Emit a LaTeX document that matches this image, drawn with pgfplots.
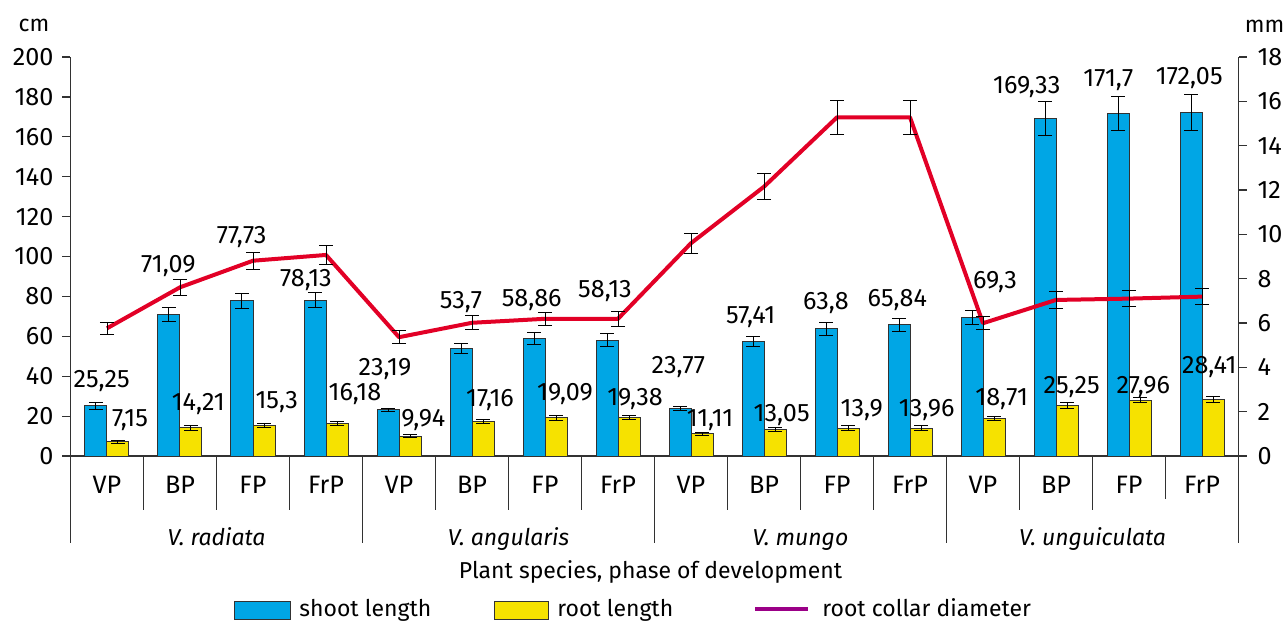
\documentclass[border=0pt]{standalone}
\usepackage{fontspec}
\setmainfont{Fira Sans}
\usepackage{pgfplots}
\usepackage{pgfplotstable}
\pgfplotsset{compat=1.18}
\definecolor{shootblue}{RGB}{0,166,229}
\definecolor{rootyellow}{RGB}{246,226,0}
\definecolor{linered}{RGB}{226,0,38}
\definecolor{legpurple}{RGB}{155,0,135}
\definecolor{axisgray}{RGB}{50,50,50}

\pgfplotstableread{
x shoot se root re diam de
0 25.25 1.7 7.15 0.7 5.76 0.26
1 71.09 3.5 14.21 1.2 7.61 0.35
2 77.73 3.9 15.30 0.8 8.81 0.39
3 78.13 3.9 16.18 1.1 9.07 0.44
4 23.19 0.8 9.94 0.6 5.36 0.28
5 53.70 2.5 17.16 1.0 6.01 0.32
6 58.86 3.2 19.09 1.1 6.19 0.29
7 58.13 3.1 19.38 1.1 6.19 0.33
8 23.77 0.8 11.11 0.7 9.60 0.45
9 57.41 2.5 13.05 1.0 12.15 0.59
10 63.80 3.2 13.90 1.2 15.28 0.77
11 65.84 3.2 13.96 1.2 15.28 0.77
12 69.30 3.5 18.71 1.1 5.99 0.29
13 169.33 8.5 25.25 1.5 7.04 0.38
14 171.70 8.5 27.96 1.2 7.10 0.36
15 172.05 9.0 28.41 1.6 7.19 0.35
}\datatable

\newcommand\numfont{\fontsize{12.6}{15}\selectfont}

\begin{document}
\begin{tikzpicture}[font=\fontsize{11.5}{13.8}\selectfont]
\pgfplotsset{
  common/.style={
    at={(0,0)}, anchor=south west,
    scale only axis, width=584pt, height=199.5pt,
    xmin=-0.5, xmax=15.5, clip=false,
    axis line style={-, draw=axisgray, line width=0.6pt},
    tick style={draw=axisgray, line width=0.6pt},
    major tick length=4pt, tick align=outside,
    xtick=\empty,
    /pgf/number format/assume math mode=true,
  },
  ebar/.style={error bars/.cd, y dir=both, y explicit,
    error mark=|,
    error bar style={black, line width=0.5pt},
    error mark options={black, mark size=3.5pt, line width=0.5pt}},
}
\begin{axis}[common,
  ymin=0, ymax=200, ytick={0,20,...,200},
  axis x line*=bottom, axis y line*=left,
  ybar=0pt, bar width=11pt,
  yticklabel style={font=\numfont, xshift=-1pt},
]
\addplot[fill=shootblue, draw=axisgray, line width=0.5pt, ebar]
  table[x=x, y=shoot, y error=se]{\datatable};
\addplot[fill=rootyellow, draw=axisgray, line width=0.5pt, ebar]
  table[x=x, y=root, y error=re]{\datatable};
\begin{scope}[every node/.style={anchor=base, yshift=-4.2pt, inner sep=0pt, font=\numfont}]
\node at (axis cs:-0.073,38.6) {25,25};
\node at (axis cs:0.84,96.1) {71,09};
\node at (axis cs:1.845,110.8) {77,73};
\node at (axis cs:2.726,89.1) {78,13};
\node at (axis cs:3.808,44.8) {23,19};
\node at (axis cs:4.849,78.2) {53,7};
\node at (axis cs:5.818,79.0) {58,86};
\node at (axis cs:6.822,83.6) {58,13};
\node at (axis cs:7.826,45.6) {23,77};
\node at (axis cs:8.818,70.7) {57,41};
\node at (axis cs:9.849,77.8) {63,8};
\node at (axis cs:10.826,79.0) {65,84};
\node at (axis cs:12.164,88.2) {69,3};
\node at (axis cs:12.599,186.0) {169,33};
\node at (axis cs:13.716,189.3) {171,7};
\node at (axis cs:14.826,190.5) {172,05};
\node at (axis cs:0.315,18.9) {7,15};
\node at (axis cs:1.251,27.2) {14,21};
\node at (axis cs:2.325,28.1) {15,3};
\node at (axis cs:3.397,32.2) {16,18};
\node at (axis cs:4.333,18.9) {9,94};
\node at (axis cs:5.247,28.9) {17,16};
\node at (axis cs:6.274,32.2) {19,09};
\node at (axis cs:7.233,29.7) {19,38};
\node at (axis cs:8.260,18.9) {11,11};
\node at (axis cs:9.242,21.4) {13,05};
\node at (axis cs:10.338,23.9) {13,9};
\node at (axis cs:11.229,23.9) {13,96};
\node at (axis cs:12.256,29.7) {18,71};
\node at (axis cs:13.215,35.6) {25,25};
\node at (axis cs:14.196,35.6) {27,96};
\node at (axis cs:15.1,45.6) {28,41};
\end{scope}
\end{axis}
\begin{axis}[common,
  ymin=0, ymax=18, ytick={0,2,...,18},
  axis x line=none, axis y line*=right,
  yticklabel style={font=\numfont, xshift=2pt},
]
\addplot[linered, line width=2pt, line join=round, mark=none, ebar]
  table[x=x, y=diam, y error=de]{\datatable};
\end{axis}
\begin{scope}[x=0.5pt, y=-0.5pt, shift={(-35.25pt,228pt)}]
  \draw[axisgray, line width=0.6pt] (70.5,456) -- (70.5,543);
  \draw[axisgray, line width=0.6pt] (1238.5,456) -- (1238.5,543);
  \foreach \k in {1,2,3,5,6,7,9,10,11,13,14}
    \draw[axisgray, line width=0.6pt] ({70.5+73*\k},456) -- ({70.5+73*\k},510);
  \draw[axisgray, line width=0.6pt] ({70.5+73*15},456) -- ({70.5+73*15},499);
  \foreach \k in {4,8,12}
    \draw[axisgray, line width=0.6pt] ({70.5+73*\k},456) -- ({70.5+73*\k},543);
  \foreach \k/\t in {0/VP,1/BP,2/FP,3/FrP,4/VP,5/BP,6/FP,7/FrP,8/VP,9/BP,10/FP,11/FrP,12/VP,13/BP,14/FP,15/FrP}
    \node[anchor=base, inner sep=0pt, font=\numfont] at ({70.5+73*(\k+0.5)},493) {\t};
  \foreach \j/\t in {0/radiata,1/angularis,2/mungo,3/unguiculata}
    \node[anchor=base, inner sep=0pt] at ({70.5+73*(4*\j+2)},545.5) {\textit{V. \t}};
  \node[anchor=base, inner sep=0pt] at (650.5,578) {Plant species, phase of development};
  \node[anchor=base, inner sep=0pt] at (34,32) {cm};
  \node[anchor=base, inner sep=0pt] at (1264.5,33) {mm};
  \filldraw[fill=shootblue, draw=axisgray, line width=0.5pt] (234,601) rectangle (290,619);
  \node[anchor=base west, inner sep=0pt] at (299,616) {shoot length};
  \filldraw[fill=rootyellow, draw=axisgray, line width=0.5pt] (494,601) rectangle (548,619);
  \node[anchor=base west, inner sep=0pt] at (557,616) {root length};
  \draw[legpurple, line width=2pt] (755,609) -- (808,609);
  \node[anchor=base west, inner sep=0pt] at (822,616) {root collar diameter};
  \pgfresetboundingbox
  \path[use as bounding box] (0,0) rectangle (1284,622);
\end{scope}
\end{tikzpicture}
\end{document}
